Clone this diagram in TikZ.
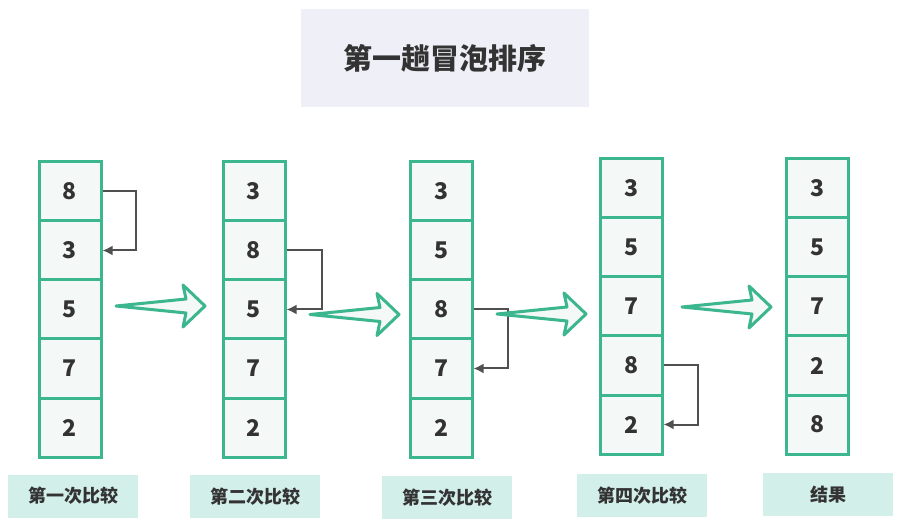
\documentclass[tikz,border=0pt]{standalone}
\usepackage{fontspec}
\newfontfamily\cjk{Noto Sans CJK SC}
\usetikzlibrary{arrows.meta}
\definecolor{grn}{HTML}{3CB68F}
\definecolor{cellbg}{HTML}{F4F8F6}
\definecolor{titlebg}{HTML}{EFEFF7}
\definecolor{labbg}{HTML}{D3EFEA}
\definecolor{txt}{HTML}{333333}
\definecolor{connc}{HTML}{505050}
\begin{document}
\begin{tikzpicture}[x=1pt,y=-1pt,
  cell/.style={draw=grn, fill=cellbg, line width=3pt, minimum width=62pt, minimum height=59pt, inner sep=0pt,
    font=\cjk\bfseries\fontsize{23}{23}\selectfont, text=txt},
  titlebox/.style={fill=titlebg, minimum width=288pt, minimum height=98pt, inner sep=0pt,
    font=\cjk\bfseries\fontsize{29}{29}\selectfont, text=txt},
  labbox/.style={fill=labbg, minimum width=130pt, minimum height=43pt, inner sep=0pt,
    font=\cjk\bfseries\fontsize{18}{18}\selectfont, text=txt},
  swapline/.style={draw=connc, line width=2pt, -{Latex[length=10pt,width=10pt]}},
  bigarrow/.pic={\filldraw[draw=grn, fill=cellbg, line width=3pt, line join=round]
     (0,0) -- (70,-7) -- (67,-21) -- (89,0) -- (67,21) -- (70,7) -- cycle;}
]
\useasboundingbox (0,0) rectangle (902,526);
\fill[white] (0,0) rectangle (902,526);

\node[titlebox] (title) at (445,58) {\raisebox{-1.5pt}{第一趟冒泡排序}};

\foreach \c/\x/\t/\vals in {1/70/162/{8,3,5,7,2}, 2/254/162/{3,8,5,7,2}, 3/441/162/{3,5,8,7,2}, 4/631/159/{3,5,7,8,2}, 5/817.5/159/{3,5,7,2,8}}{
  \foreach \v [count=\k] in \vals {
    \node[cell] (c\c-\k) at (\x,{\t+29.5+59*(\k-1)}) {\raisebox{-2pt}{\v}};
  }
}

\draw[swapline] (c1-1.east) -- ++(33,0) |- (c1-2.east);
\draw[swapline] (c2-2.east) -- ++(35,0) |- (c2-3.east);
\draw[swapline] (c3-3.east) -- ++(34,0) |- (c3-4.east);
\draw[swapline] (c4-4.east) -- ++(34,0) |- (c4-5.east);

\pic at (116,306) {bigarrow};
\pic at (310,314.5) {bigarrow};
\pic at (497,314) {bigarrow};
\pic at (682,307) {bigarrow};

\node[labbox] (l1) at (73,496) {第一次比较};
\node[labbox] (l2) at (255,496.5) {第二次比较};
\node[labbox] (l3) at (447,497.5) {第三次比较};
\node[labbox] (l4) at (642,495.5) {第四次比较};
\node[labbox] (l5) at (828,494.5) {结果};
\end{tikzpicture}
\end{document}
